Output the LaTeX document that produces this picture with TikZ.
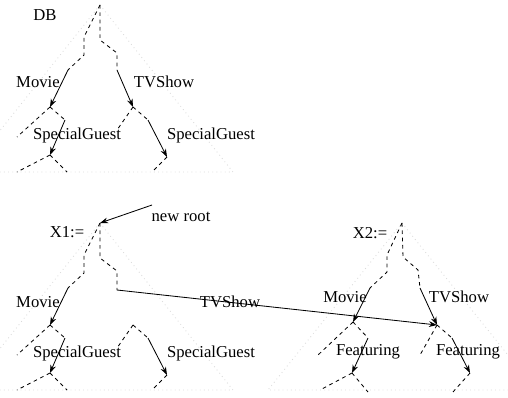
\documentclass[tikz,border=0pt]{standalone}
\usepackage{fontspec}
\setmainfont{Liberation Serif}
\usetikzlibrary{arrows.meta}
\definecolor{TriGray}{RGB}{218,218,218}

\begin{document}
\begin{tikzpicture}[x=0.6pt, y=-0.6pt, font=\normalsize, lbl/.style={inner sep=0pt}, dsh/.style={dash pattern=on 2.2pt off 2.2pt, line width=0.5pt}, ar/.style={-{Stealth[length=1.7mm, width=1.2mm]}, line width=0.5pt}, tri/.style={TriGray, dotted, line width=0.5pt}]
\useasboundingbox (0,0) rectangle (508,397);
% dotted outlines of the three trees
\begin{scope}
\clip (0,0) rectangle (508,397);
\draw[tri] (100,5) -- (233,172) -- (-33,172) -- cycle;
\draw[tri] (100,223) -- (233,390) -- (-33,390) -- cycle;
\draw[tri] (402,223) -- (536,390) -- (268,390) -- cycle;
\end{scope}
% tree DB
\coordinate (dbR) at (100,5);
\coordinate (dbMa) at (68,70); \coordinate (dbM) at (50,107);
\coordinate (dbTa) at (117,70); \coordinate (dbT) at (133,107);
\coordinate (dbMl) at (17,137); \coordinate (dbSa) at (65,120); \coordinate (dbS) at (50,155);
\coordinate (dbSl) at (17,172); \coordinate (dbSr) at (67,172);
\coordinate (dbTl) at (117,130); \coordinate (dbUa) at (148,120); \coordinate (dbU) at (167,157);
\coordinate (dbUl) at (152,172);
\draw[dsh] (dbR) -- (84,37) -- (84,55) -- (dbMa); \draw[ar] (dbMa) -- (dbM);
\draw[dsh] (dbR) -- (100,40) -- (117,53) -- (dbTa); \draw[ar] (dbTa) -- (dbT);
\draw[dsh] (dbM) -- (dbMl); \draw[dsh] (dbM) -- (dbSa); \draw[ar] (dbSa) -- (dbS);
\draw[dsh] (dbS) -- (dbSl); \draw[dsh] (dbS) -- (dbSr);
\draw[dsh] (dbT) -- (dbTl); \draw[dsh] (dbT) -- (dbUa); \draw[ar] (dbUa) -- (dbU);
\draw[dsh] (dbU) -- (dbUl);
\node[lbl] (dbName) at (45,15) {DB};
\node[lbl] (dbMovie) at (38,82) {Movie};
\node[lbl] (dbTV) at (164,82) {TVShow};
\node[lbl] (dbSG1) at (77,135) {SpecialGuest};
\node[lbl] (dbSG2) at (211,135) {SpecialGuest};
% tree X1
\coordinate (xaR) at (100,223);
\coordinate (xaMa) at (68,288); \coordinate (xaM) at (50,325);
\coordinate (xaTa) at (117,290);
\coordinate (xaMl) at (17,355); \coordinate (xaSa) at (65,338); \coordinate (xaS) at (50,373);
\coordinate (xaSl) at (17,390); \coordinate (xaSr) at (67,390);
\coordinate (xaT) at (133,325);
\coordinate (xaTl) at (117,348); \coordinate (xaUa) at (148,338); \coordinate (xaU) at (167,375);
\coordinate (xaUl) at (152,390);
\draw[dsh] (xaR) -- (84,255) -- (84,273) -- (xaMa); \draw[ar] (xaMa) -- (xaM);
\draw[dsh] (xaR) -- (100,258) -- (117,271) -- (xaTa);
\draw[dsh] (xaM) -- (xaMl); \draw[dsh] (xaM) -- (xaSa); \draw[ar] (xaSa) -- (xaS);
\draw[dsh] (xaS) -- (xaSl); \draw[dsh] (xaS) -- (xaSr);
\draw[dsh] (xaT) -- (xaTl); \draw[dsh] (xaT) -- (xaUa); \draw[ar] (xaUa) -- (xaU);
\draw[dsh] (xaU) -- (xaUl);
\node[lbl] (xaName) at (67,232) {X1:=};
\node[lbl] (newRoot) at (181,217) {new root};
\coordinate (newRootA) at (152,205);
\draw[ar] (newRootA) -- (xaR);
\node[lbl] (xaMovie) at (38,302) {Movie};
\node[lbl] (xaTV) at (230,302) {TVShow};
\node[lbl] (xaSG1) at (77,353) {SpecialGuest};
\node[lbl] (xaSG2) at (211,353) {SpecialGuest};
% tree X2
\coordinate (xbR) at (402,223);
\coordinate (xbMa) at (370,288); \coordinate (xbM) at (353,322);
\coordinate (xbTa) at (420,288); \coordinate (xbT) at (437,325);
\coordinate (xbMl) at (318,355); \coordinate (xbSa) at (368,338); \coordinate (xbS) at (352,373);
\coordinate (xbSl) at (320,390); \coordinate (xbSr) at (368,392);
\coordinate (xbTl) at (420,355); \coordinate (xbUa) at (452,338); \coordinate (xbU) at (470,373);
\coordinate (xbUl) at (453,392);
\draw[dsh] (xbR) -- (387,255) -- (387,272) -- (xbMa); \draw[ar] (xbMa) -- (xbM);
\draw[dsh] (xbR) -- (403,257) -- (418,270) -- (xbTa); \draw[ar] (xbTa) -- (xbT);
\draw[dsh] (xbM) -- (xbMl); \draw[dsh] (xbM) -- (xbSa); \draw[ar] (xbSa) -- (xbS);
\draw[dsh] (xbS) -- (xbSl); \draw[dsh] (xbS) -- (xbSr);
\draw[dsh] (xbT) -- (xbTl); \draw[dsh] (xbT) -- (xbUa); \draw[ar] (xbUa) -- (xbU);
\draw[dsh] (xbU) -- (xbUl);
\node[lbl] (xbName) at (370,233) {X2:=};
\node[lbl] (xbMovie) at (345,297) {Movie};
\node[lbl] (xbTV) at (459,297) {TVShow};
\node[lbl] (xbF1) at (368,352) {Featuring};
\node[lbl] (xbF2) at (468,352) {Featuring};
% shared TVShow edge
\draw[ar] (xaTa) -- (xbT);
\end{tikzpicture}
\end{document}
